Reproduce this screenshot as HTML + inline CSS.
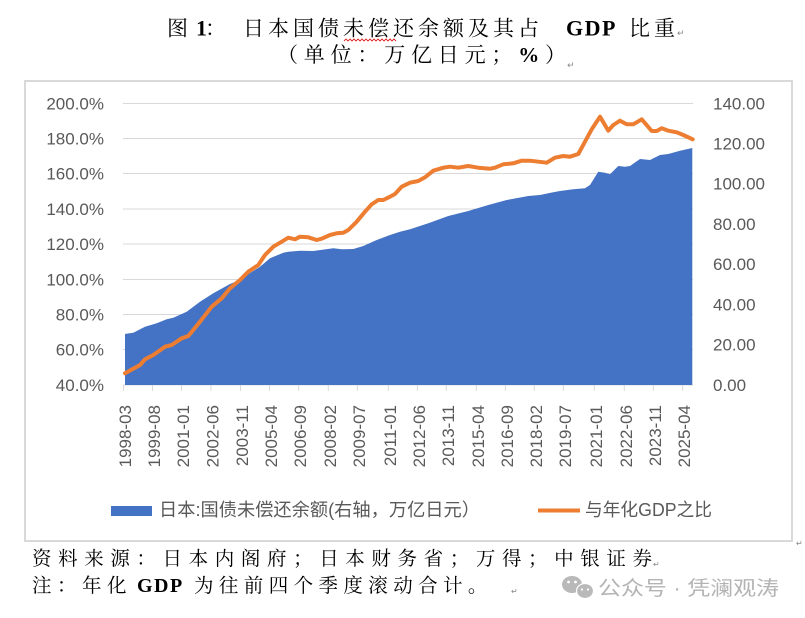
<!DOCTYPE html>
<html>
<head>
<meta charset="utf-8">
<style>
  html, body { margin:0; padding:0; background:#fff; }
  body { width:805px; height:618px; overflow:hidden; }
  svg { display:block; }
</style>
</head>
<body>
<svg width="805" height="618" viewBox="0 0 805 618" xmlns="http://www.w3.org/2000/svg">
  <rect x="0" y="0" width="805" height="618" fill="#ffffff"/>

  <!-- Title -->
  <g font-family="'Liberation Serif','Noto Serif CJK SC',serif" font-size="21" fill="#000">
    <text x="167" y="35.5">图</text>
    <text x="196" y="35.5" font-weight="bold" font-size="22">1</text>
    <text x="205" y="35.5">：</text>
    <text x="243" y="35.5" letter-spacing="4">日本国债未偿还余额及其占</text>
    <text x="566" y="35.5" font-weight="bold" font-size="22" letter-spacing="1.5">GDP</text>
    <text x="629" y="35.5" letter-spacing="4">比重</text>
  </g>
  <text x="677" y="36" font-family="'DejaVu Sans',sans-serif" font-size="9" fill="#888">↵</text>
  <path d="M344 41 l2 -2 l2 2 l2 -2 l2 2 l2 -2 l2 2 l2 -2 l2 2 l2 -2 l2 2 l2 -2 l2 2 l2 -2 l2 2 l2 -2 l2 2 l2 -2 l2 2 l2 -2 l2 2 l2 -2 l2 2 l2 -2 l2 2 l2 -2 l2 2" fill="none" stroke="#e02020" stroke-width="0.9"/>

  <!-- Subtitle -->
  <text x="277" y="62" textLength="289" lengthAdjust="spacing" font-family="'Liberation Serif','Noto Serif CJK SC',serif" font-size="21" fill="#000">（单位：万亿日元；<tspan font-weight="bold">%</tspan>）</text>
  <text x="567" y="68" font-family="'DejaVu Sans',sans-serif" font-size="9" fill="#888">↵</text>

  <!-- Chart frame -->
  <rect x="25" y="81" width="767" height="460" fill="#fff" stroke="#d9d9d9" stroke-width="2"/>

  <!-- Gridlines -->
  <g stroke="#d9d9d9" stroke-width="1">
    <line x1="123" y1="103.5" x2="693" y2="103.5"/>
    <line x1="123" y1="138.5" x2="693" y2="138.5"/>
    <line x1="123" y1="173.5" x2="693" y2="173.5"/>
    <line x1="123" y1="209" x2="693" y2="209"/>
    <line x1="123" y1="244" x2="693" y2="244"/>
    <line x1="123" y1="279.5" x2="693" y2="279.5"/>
    <line x1="123" y1="314.5" x2="693" y2="314.5"/>
    <line x1="123" y1="349.5" x2="693" y2="349.5"/>
    <line x1="123" y1="385" x2="693" y2="385"/>
  </g>

  <!-- Blue area (right axis) -->
  <polygon fill="#4472C4" points="125,334 133.3,332.7 145,326.7 156.7,323.3 166.7,319.3 173.3,317.7 186.7,311.7 200,301.7 213.3,293.3 230,284 240,280 250,273 260,266.7 270,258.3 283.3,252.7 288.3,251.7 300,250.7 313.3,251 333.3,248.3 341.7,249.3 353.3,249 363.3,246 376.7,240 390,235 400,231.7 410,229.3 428.3,223.3 448.3,216 468.3,211 488.3,205 506.7,200 528.3,196 540,195 553.3,192.3 560,191 573.3,189.3 585,188.3 590,185 598.3,171.7 605,172.7 610,174.3 618.3,166 625,166.7 630,166 640,159 650,160 660,155 668.3,154 680,150.7 692.3,148 692.3,385 125,385"/>

  <!-- Orange line (left axis) -->
  <polyline fill="none" stroke="#ED7D31" stroke-width="4" stroke-linejoin="round" stroke-linecap="round" points="125,373.3 140,365 145,359.3 153.3,355 165,346.7 171.7,345 181.7,338.3 188.3,336 200,321.7 211.7,306.7 221.7,298.3 230,288.3 240,280 248.3,271.7 258.3,265 265,255 273.3,246.7 281.7,241.7 288.3,237.7 295,239.3 300,236.7 308.3,237.3 316.7,240 321.7,238.7 330,235 336.7,233.3 343.3,232.7 348.3,230 356.7,221.7 365,211.7 371.7,204.3 378.3,200 383.3,200 390,196.7 395,194 401.7,186.7 410,182.7 418.3,181 425,177.3 433.3,170.7 443.3,167.7 450,166.7 458.3,167.7 468.3,166 478.3,167.7 490,168.7 495,167.7 503.3,164.3 513.3,163.3 521.7,160.7 530,160.7 538.3,161.7 546.7,162.7 555,157.7 563.3,156 570,156.7 578.3,154 585,141.7 591.7,129.3 600,116.7 608.3,130.7 613.3,125 620,120.7 626.7,124.3 633.3,124.3 641.7,119.3 651.7,131 656.7,131 661.7,128.3 668.3,130.7 676.7,132.3 683.3,135 692.7,139.3"/>

  <!-- X axis ticks -->
  <g stroke="#d9d9d9" stroke-width="1">
    <line x1="123.5" y1="385" x2="123.5" y2="391"/>
    <line x1="152.5" y1="385" x2="152.5" y2="391"/>
    <line x1="181.5" y1="385" x2="181.5" y2="391"/>
    <line x1="211" y1="385" x2="211" y2="391"/>
    <line x1="240.5" y1="385" x2="240.5" y2="391"/>
    <line x1="269.5" y1="385" x2="269.5" y2="391"/>
    <line x1="298.7" y1="385" x2="298.7" y2="391"/>
    <line x1="328.3" y1="385" x2="328.3" y2="391"/>
    <line x1="357.3" y1="385" x2="357.3" y2="391"/>
    <line x1="388.3" y1="385" x2="388.3" y2="391"/>
    <line x1="417.3" y1="385" x2="417.3" y2="391"/>
    <line x1="446.3" y1="385" x2="446.3" y2="391"/>
    <line x1="476.3" y1="385" x2="476.3" y2="391"/>
    <line x1="505.3" y1="385" x2="505.3" y2="391"/>
    <line x1="534.3" y1="385" x2="534.3" y2="391"/>
    <line x1="563.3" y1="385" x2="563.3" y2="391"/>
    <line x1="594.3" y1="385" x2="594.3" y2="391"/>
    <line x1="624.3" y1="385" x2="624.3" y2="391"/>
    <line x1="653.3" y1="385" x2="653.3" y2="391"/>
    <line x1="682.7" y1="385" x2="682.7" y2="391"/>
  </g>

  <!-- Left axis labels -->
  <g font-family="'Liberation Sans',sans-serif" font-size="17" fill="#595959" text-anchor="end">
    <text x="104" y="109.5">200.0%</text>
    <text x="104" y="144.5">180.0%</text>
    <text x="104" y="179.5">160.0%</text>
    <text x="104" y="215">140.0%</text>
    <text x="104" y="250">120.0%</text>
    <text x="104" y="285.5">100.0%</text>
    <text x="104" y="320.5">80.0%</text>
    <text x="104" y="355.5">60.0%</text>
    <text x="104" y="391">40.0%</text>
  </g>

  <!-- Right axis labels -->
  <g font-family="'Liberation Sans',sans-serif" font-size="17" fill="#595959">
    <text x="713" y="109.5">140.00</text>
    <text x="713" y="149.5">120.00</text>
    <text x="713" y="189.5">100.00</text>
    <text x="713" y="230">80.00</text>
    <text x="713" y="270">60.00</text>
    <text x="713" y="310.5">40.00</text>
    <text x="713" y="350.5">20.00</text>
    <text x="713" y="391">0.00</text>
  </g>

  <!-- X axis labels -->
  <g font-family="'Liberation Sans',sans-serif" font-size="17" fill="#595959" text-anchor="end">
    <text transform="translate(131,405) rotate(-90)">1998-03</text>
    <text transform="translate(160,405) rotate(-90)">1999-08</text>
    <text transform="translate(189,405) rotate(-90)">2001-01</text>
    <text transform="translate(218.5,405) rotate(-90)">2002-06</text>
    <text transform="translate(248,405) rotate(-90)">2003-11</text>
    <text transform="translate(277,405) rotate(-90)">2005-04</text>
    <text transform="translate(306.2,405) rotate(-90)">2006-09</text>
    <text transform="translate(335.8,405) rotate(-90)">2008-02</text>
    <text transform="translate(364.8,405) rotate(-90)">2009-07</text>
    <text transform="translate(395.8,405) rotate(-90)">2011-01</text>
    <text transform="translate(424.8,405) rotate(-90)">2012-06</text>
    <text transform="translate(453.8,405) rotate(-90)">2013-11</text>
    <text transform="translate(483.8,405) rotate(-90)">2015-04</text>
    <text transform="translate(512.8,405) rotate(-90)">2016-09</text>
    <text transform="translate(541.8,405) rotate(-90)">2018-02</text>
    <text transform="translate(570.8,405) rotate(-90)">2019-07</text>
    <text transform="translate(601.8,405) rotate(-90)">2021-01</text>
    <text transform="translate(631.8,405) rotate(-90)">2022-06</text>
    <text transform="translate(660.8,405) rotate(-90)">2023-11</text>
    <text transform="translate(690.2,405) rotate(-90)">2025-04</text>
  </g>

  <!-- Legend -->
  <rect x="111" y="506" width="41" height="10" fill="#4472C4"/>
  <text x="159" y="516" textLength="321" lengthAdjust="spacingAndGlyphs" font-family="'Liberation Sans','Noto Sans CJK SC',sans-serif" font-size="18" fill="#595959">日本:国债未偿还余额(右轴，万亿日元）</text>
  <line x1="538" y1="510.5" x2="580" y2="510.5" stroke="#ED7D31" stroke-width="4"/>
  <text x="585" y="516" textLength="127" lengthAdjust="spacingAndGlyphs" font-family="'Liberation Sans','Noto Sans CJK SC',sans-serif" font-size="18" fill="#595959">与年化GDP之比</text>

  <text x="796" y="546" font-family="'DejaVu Sans',sans-serif" font-size="8" fill="#888">↵</text>

  <!-- Footer -->
  <text x="32" y="565" textLength="620" lengthAdjust="spacing" font-family="'Liberation Serif','Noto Serif CJK SC',serif" font-size="19.5" fill="#000">资料来源：日本内阁府；日本财务省；万得；中银证券</text>
  <text x="653" y="567" font-family="'DejaVu Sans',sans-serif" font-size="8" fill="#888">↵</text>
  <g font-family="'Liberation Serif','Noto Serif CJK SC',serif" font-size="19.5" fill="#000">
    <text x="32" y="592" letter-spacing="5.5">注：年化</text>
    <text x="137" y="592" font-weight="bold" font-size="20" letter-spacing="1.5">GDP</text>
    <text x="194" y="592" letter-spacing="5.4">为往前四个季度滚动合计。</text>
  </g>
  <text x="511" y="594" font-family="'DejaVu Sans',sans-serif" font-size="8" fill="#888">↵</text>

  <!-- Watermark -->
  <g fill="#b9b9b9">
    <ellipse cx="572" cy="584.5" rx="10" ry="8.5"/>
    <ellipse cx="585" cy="591" rx="8.5" ry="7.5" stroke="#fff" stroke-width="1.2"/>
    <circle cx="568.5" cy="582" r="1.4" fill="#fff"/>
    <circle cx="575.5" cy="582" r="1.4" fill="#fff"/>
    <circle cx="582" cy="589.5" r="1.1" fill="#fff"/>
    <circle cx="588" cy="589.5" r="1.1" fill="#fff"/>
  </g>
  <text x="598" y="595" textLength="181" lengthAdjust="spacingAndGlyphs" font-family="'Liberation Sans','Noto Sans CJK SC',sans-serif" font-size="20" fill="#b3b3b3">公众号 · 凭澜观涛</text>
</svg>
</body>
</html>
